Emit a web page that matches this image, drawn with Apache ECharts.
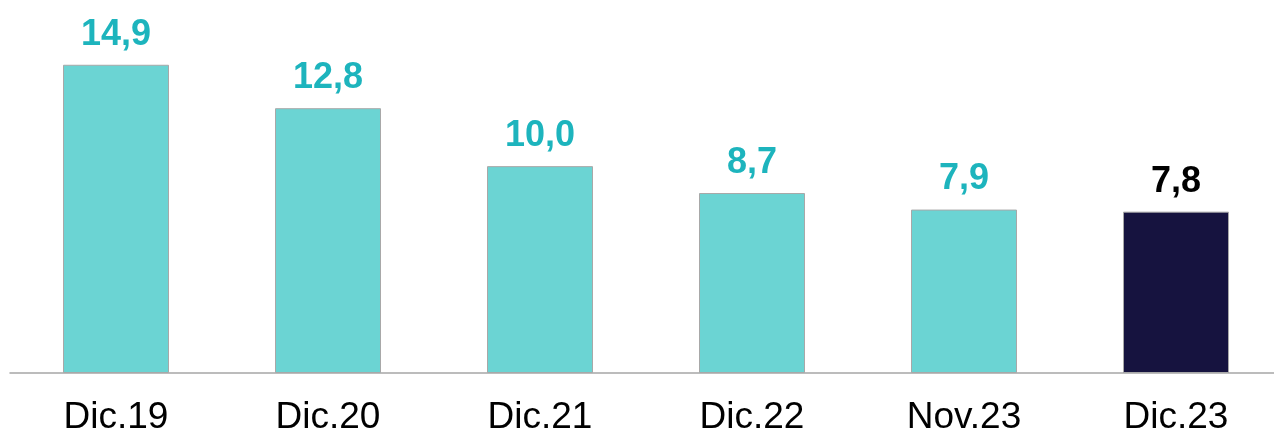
<!DOCTYPE html>
<html><head><meta charset="utf-8">
<script src="https://cdn.jsdelivr.net/npm/echarts@6/dist/echarts.min.js"></script>
<style>html,body{margin:0;padding:0;background:#fff;overflow:hidden}#c{width:1290px;height:436px}</style>
</head><body><div id="c"></div>
<script>
const categories = ['Dic.19','Dic.20','Dic.21','Dic.22','Nov.23','Dic.23'];
const values = [14.9, 12.8, 10.0, 8.7, 7.9, 7.8];
const highlightIndex = 5;

const chart = echarts.init(document.getElementById('c'));
chart.setOption({
  animation: false,
  grid: { left: 10, right: 8, top: 42, bottom: 63, containLabel: false },
  xAxis: {
    type: 'category', data: categories,
    axisLine: { lineStyle: { color: '#a6a6a6', width: 1.5 } },
    axisTick: { show: false },
    axisLabel: { color: '#000', fontFamily: 'Liberation Sans', fontSize: 37, margin: 26 }
  },
  yAxis: { type: 'value', min: 0, max: 16, show: false, splitLine: { show: false } },
  series: [{
    type: 'bar', barWidth: 106,
    data: values.map((v, i) => ({
      value: v,
      itemStyle: { color: i === highlightIndex ? '#16133f' : '#6bd4d3', borderColor: '#a8a8a8', borderWidth: 1 },
      label: { color: i === highlightIndex ? '#000' : '#1db4bd' }
    })),
    label: {
      show: true, position: 'top', distance: 12,
      fontFamily: 'Liberation Sans', fontWeight: 'bold', fontSize: 36,
      formatter: p => p.value.toFixed(1).replace('.', ',')
    }
  }]
});
</script></body></html>
